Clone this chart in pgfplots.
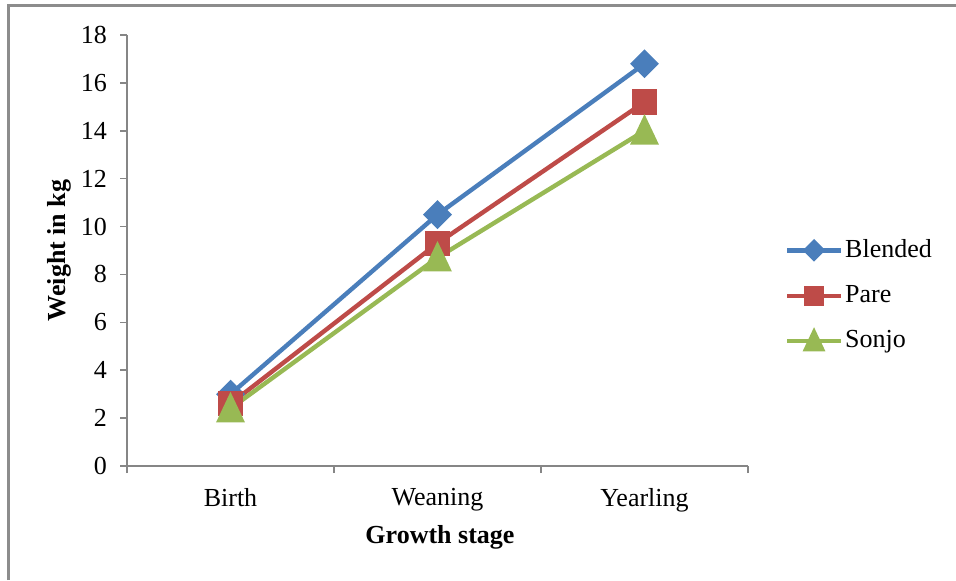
\documentclass[border=0pt]{standalone}
\usepackage{pgfplots}
\pgfplotsset{compat=1.18}
\usepackage{fontspec}
\setmainfont{Liberation Serif}
\definecolor{cBlend}{HTML}{4A7EBB}
\definecolor{cPare}{HTML}{BE4B48}
\definecolor{cSonjo}{HTML}{98B954}
\definecolor{axgray}{HTML}{868686}
\definecolor{framegray}{HTML}{8C8C8C}
\begin{document}
\fontsize{13}{15.6}\selectfont
\begin{tikzpicture}
\useasboundingbox (0,0) rectangle (478pt,290pt);
% outer chart frame (top and left edges)
\draw[framegray, line width=1.1pt] (4.25pt,0pt) -- (4.25pt,287.25pt) -- (478pt,287.25pt);
\begin{axis}[
  at={(63.5pt,57pt)}, anchor=south west,
  scale only axis, width=310.5pt, height=215.5pt,
  xmin=-0.5, xmax=2.5, ymin=0, ymax=18,
  axis lines*=left,
  axis line style={axgray, line width=0.75pt},
  tick align=outside, tick pos=left,
  major tick length=3.5pt,
  tick style={axgray, line width=0.75pt},
  xtick={-0.5,0.5,1.5,2.5}, xticklabels={},
  extra x ticks={0,1,2}, extra x tick labels={Birth,Weaning,Yearling},
  extra x tick style={major tick length=0pt},
  ytick={0,2,...,18},
  /pgf/number format/assume math mode=true,
  tick label style={font=\fontsize{13}{15.6}\selectfont, text=black},
  xticklabel style={yshift=-6.5pt},
  yticklabel style={xshift=-2pt},
  xlabel={\textbf{Growth stage}},
  ylabel={\textbf{Weight in kg}},
  every axis x label/.style={at={(rel axis cs:0.504,-0.165)}, anchor=center, font=\fontsize{13}{15.6}\selectfont},
  every axis y label/.style={at={(rel axis cs:-0.109,0.5)}, anchor=center, rotate=90, font=\fontsize{13}{15.6}\selectfont},
  legend image code/.code={\draw[mark repeat=2,mark phase=2,#1] plot coordinates {(0pt,0pt) (13.5pt,0pt) (27pt,0pt)};},
  legend style={at={(1.049,0.396)}, anchor=west, draw=none, fill=none,
    font=\fontsize{13}{15.6}\selectfont, row sep=10pt,
    nodes={inner sep=1pt}, cells={anchor=west}},
  clip=false,
]
\addplot[cBlend, line width=2.2pt, mark=square*, mark size=4pt, mark options={rotate=45, solid}, forget plot]
  coordinates {(0,3.0) (1,10.5) (2,16.8)};
\addplot[cPare, line width=2.2pt, mark=square*, mark size=5.2pt, mark options={solid}, forget plot]
  coordinates {(0,2.6) (1,9.3) (2,15.2)};
\addplot[cSonjo, line width=2.2pt, mark=triangle*, mark size=6.3pt, mark options={solid, yshift=-1.92pt, yscale=1.22}, forget plot]
  coordinates {(0,2.4) (1,8.7) (2,14.0)};
\addlegendimage{cBlend, line width=2.2pt, mark=square*, mark size=2.9pt, mark options={rotate=45, solid}}
\addlegendentry{Blended}
\addlegendimage{cPare, line width=2.2pt, mark=square*, mark size=4pt, mark options={solid}}
\addlegendentry{Pare}
\addlegendimage{cSonjo, line width=2.2pt, mark=triangle*, mark size=4.6pt, mark options={solid, yshift=-1.4pt, yscale=1.22}}
\addlegendentry{Sonjo}
\end{axis}
\end{tikzpicture}
\end{document}
